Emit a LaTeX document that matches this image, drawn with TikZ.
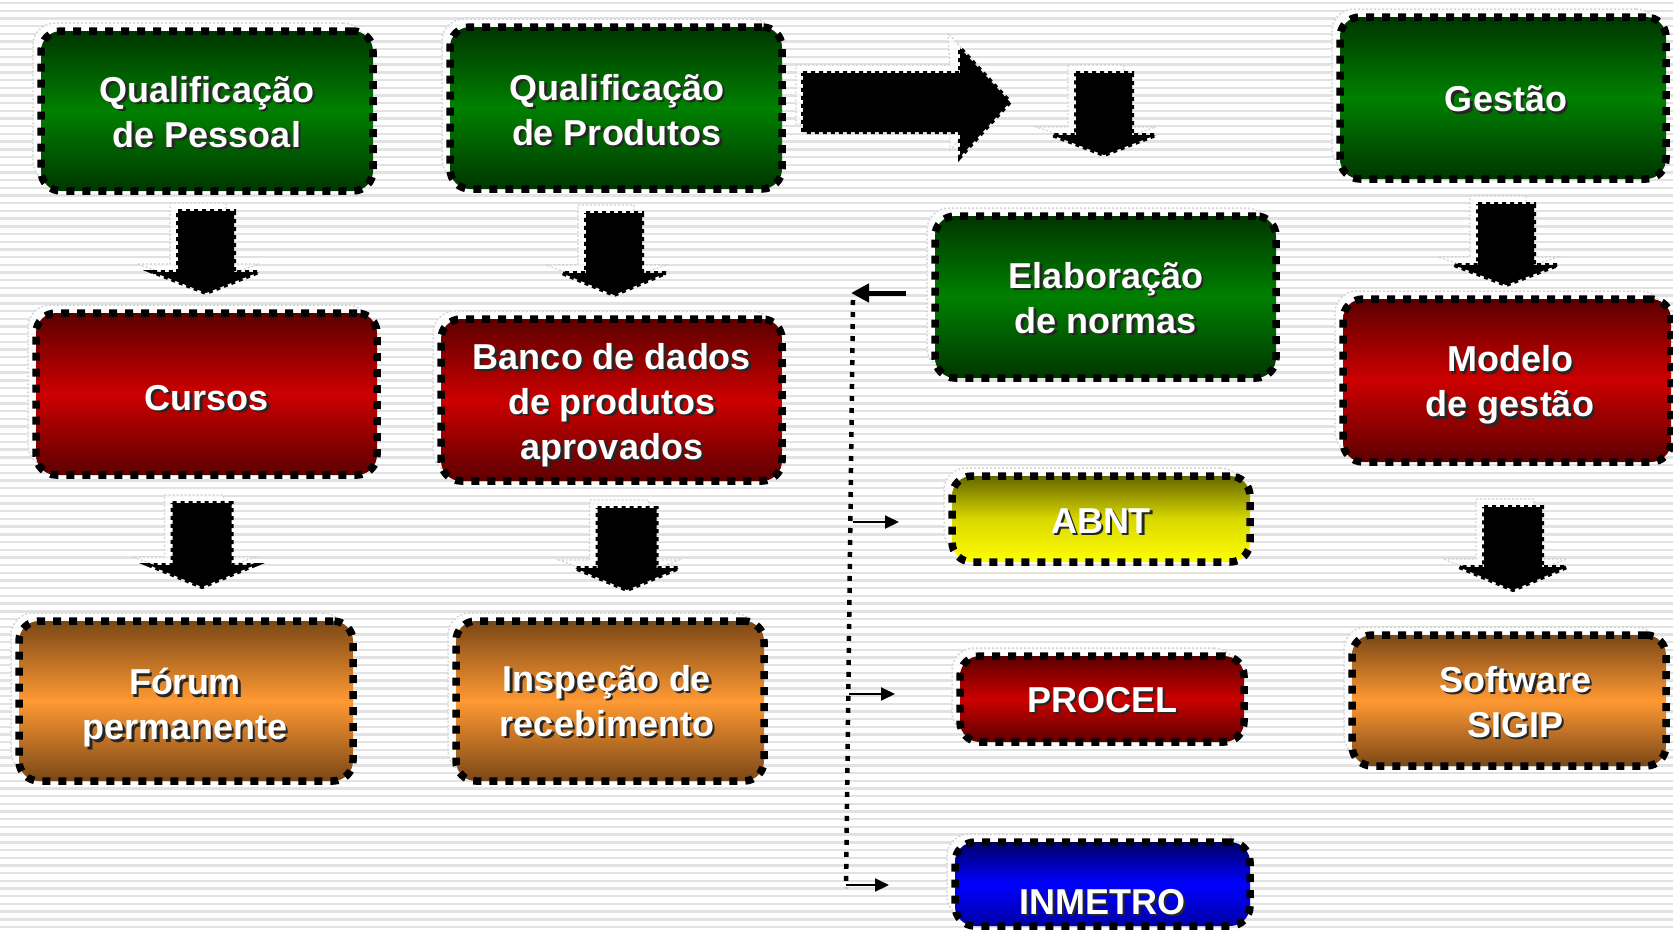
\documentclass[tikz,border=0pt]{standalone}
\usepackage{fontspec}
\setmainfont{Liberation Sans}
\usetikzlibrary{calc,arrows.meta}
\definecolor{gdark}{HTML}{003600}
\definecolor{gmid}{HTML}{008000}
\definecolor{rdark}{HTML}{5C0000}
\definecolor{rmid}{HTML}{CC0000}
\definecolor{odark}{HTML}{7A4716}
\definecolor{omid}{HTML}{FF9933}
\definecolor{ydark}{HTML}{666600}
\definecolor{ymid}{HTML}{FFFF00}
\definecolor{yfade}{HTML}{D8D800}
\definecolor{bdark}{HTML}{000066}
\definecolor{bmid}{HTML}{0000FF}
\definecolor{stripe}{HTML}{E2E2E2}
\tikzset{
  box/.style={rectangle, rounded corners=20pt, draw=black, line width=7.5pt,
    dash pattern=on 8pt off 8pt, inner sep=0pt},
  gbox/.style={box, top color=gdark, bottom color=gdark, middle color=gmid},
  rbox/.style={box, top color=rdark, bottom color=rdark, middle color=rmid},
  obox/.style={box, top color=odark, bottom color=odark, middle color=omid},
  ybox/.style={box, top color=ydark, bottom color=ymid, middle color=yfade},
  bbox/.style={box, top color=bdark, bottom color=bdark!60!bmid, middle color=bmid},
  ghost/.style={rectangle, rounded corners=22pt, fill=white, fill opacity=0.8,
    draw=black!16, line width=1.5pt, dash pattern=on 2pt off 2pt, inner sep=0pt},
  txt/.style={text=white, font=\fontsize{36}{45}\selectfont\bfseries, align=center, inner sep=0pt},
  txtsh/.style={txt, text=black!85},
  blockarrow/.style={fill=black, draw=black, line width=4pt, dash pattern=on 4pt off 4pt},
  ghostarrow/.style={fill=white, fill opacity=0.75, draw=black!18, line width=1.2pt,
    dash pattern=on 2pt off 2pt},
  bus/.style={draw=black, line width=4.5pt, dash pattern=on 5pt off 7pt},
  bigarr/.style={draw=black, line width=5pt, -{Triangle[length=18pt,width=18pt]}},
  smallarr/.style={draw=black, line width=2pt, -{Triangle[length=14pt,width=13pt]}},
}
% name, style, cx, cy, w, h, tx, ty, text
\newcommand\mkbox[9]{%
  \node[ghost, minimum width=#5pt, minimum height=#6pt] (#1g) at (#3-8,#4-8) {};
  \node[#2, minimum width=#5pt, minimum height=#6pt] (#1) at (#3,#4) {};
  \node[txtsh] (#1s) at (#7+2.5,#8+2.5) {#9};
  \node[txt] (#1t) at (#7,#8) {#9};
}
% cx, shaft half width, top, head y, head half width, tip y
\newcommand\mkdarrow[6]{%
  \path[ghostarrow] (#1-8-#2,#3-8) -- (#1-8+#2,#3-8) -- (#1-8+#2,#4-8) -- (#1-8+#5+8,#4-8)
     -- (#1-8,#6-8) -- (#1-8-#5-8,#4-8) -- (#1-8-#2,#4-8) -- cycle;
  \path[blockarrow] (#1-#2,#3) -- (#1+#2,#3) -- (#1+#2,#4) -- (#1+#5,#4)
     -- (#1,#6) -- (#1-#5,#4) -- (#1-#2,#4) -- cycle;
}
\begin{document}
\begin{tikzpicture}[x=1pt,y=-1pt]
\useasboundingbox (0,0) rectangle (1673,932);
\fill[white] (0,0) rectangle (1673,932);
\foreach \i in {0,...,121} \draw[stripe, line width=2.4pt] (0,3+\i*7.7) -- (1673,3+\i*7.7);

% boxes
\mkbox{qp}{gbox}{207}{111}{332}{160}{207}{112}{Qualificação\\de Pessoal}
\mkbox{qprod}{gbox}{616}{108}{332}{162}{617}{110}{Qualificação\\de Produtos}
\mkbox{gest}{gbox}{1503}{98}{326}{162}{1506}{99}{Gestão}
\mkbox{cur}{rbox}{206.5}{394}{341}{162}{207}{398}{Cursos}
\mkbox{banco}{rbox}{611.5}{400}{341}{162}{612}{405}{Banco de dados\\de produtos\\aprovados}
\mkbox{forum}{obox}{186}{701}{334}{160}{185}{708}{Fórum\\permanente}
\mkbox{insp}{obox}{610}{701}{308}{160}{607}{701}{Inspeção de\\recebimento}
\mkbox{elab}{gbox}{1105.5}{297}{341}{162}{1106}{298}{Elaboração\\de normas}
\mkbox{mod}{rbox}{1507}{380.5}{328}{163}{1510}{385}{Modelo\\de gestão}
\mkbox{abnt}{ybox}{1101}{519}{298}{86}{1101}{521}{ABNT}
\mkbox{procel}{rbox}{1102}{699}{284}{86}{1102}{700}{PROCEL}
\mkbox{inm}{bbox}{1102.5}{884}{295}{84}{1102}{902}{INMETRO}
\mkbox{soft}{obox}{1509}{700.5}{314}{131}{1515}{702}{Software\\SIGIP}

% block arrows
\mkdarrow{206}{28}{211}{272}{53}{293}
\mkdarrow{614}{28}{213}{273}{52}{295}
\mkdarrow{202}{29.5}{503}{565}{53}{587}
\mkdarrow{627}{29.5}{508}{568}{52}{590}
\mkdarrow{1104}{28}{73}{135}{52}{155}
\mkdarrow{1506}{28}{204}{265}{52}{285}
\mkdarrow{1513}{29}{507}{567}{54}{590}
\path[ghostarrow] (796,65) -- (950,65) -- (948,33) -- (1003,94) -- (950,150) -- (950,124) -- (796,124) -- cycle;
\path[blockarrow] (803,73) -- (960,73) -- (960,48) -- (1010,102) -- (960,157) -- (960,132) -- (803,132) -- cycle;

% connectors
\coordinate (bustop) at (853,300);
\coordinate (busbot) at (846,888);
\coordinate (bleft) at (851,293);
\coordinate (b1) at (853,522);
\coordinate (b2) at (849,694);
\coordinate (b3) at (846,885);
\coordinate (e1) at (899,522);
\coordinate (e2) at (895,694);
\coordinate (e3) at (889,885);
\draw[bus] (bustop) -- (busbot);
\draw[bigarr] ($(elab.west)+(-25,-4)$) -- (bleft);
\draw[smallarr] (b1) -- (e1);
\draw[smallarr] (b2) -- (e2);
\draw[smallarr] (b3) -- (e3);
\end{tikzpicture}
\end{document}
